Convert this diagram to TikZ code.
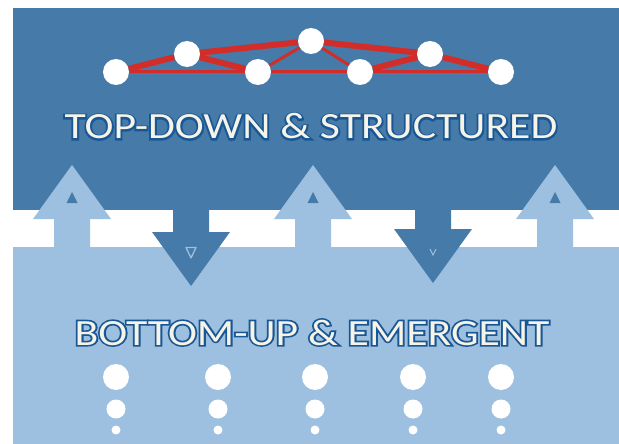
\documentclass[tikz,border=0pt]{standalone}
\usepackage{fontspec}
\setmainfont{Carlito}
\usetikzlibrary{calc}

\definecolor{topblue}{RGB}{70,122,168}
\definecolor{lowblue}{RGB}{157,192,224}
\definecolor{linkred}{RGB}{210,45,40}
\definecolor{rimblue}{RGB}{26,86,148}
\definecolor{cream}{RGB}{246,243,232}

% texto ensanchado; \rimtext lo engorda con un trazo (contorno)
\newcommand{\widetext}[1]{\scalebox{1.18}[1]{#1}}
\newcommand{\rimtext}[1]{\scalebox{1.18}[1]{\special{pdf:literal direct 2 Tr 3.2 w 0.10 0.34 0.58 RG}#1\special{pdf:literal direct 0 Tr}}}

\begin{document}
\begin{tikzpicture}[
    x=1pt, y=-1pt,
    % Estilos
    hub/.style={circle, fill=white, minimum size=26pt, inner sep=0pt},
    seed/.style={circle, fill=white, inner sep=0pt},
    strong/.style={linkred, line width=6pt},
    weak/.style={linkred, line width=3pt},
    banner/.style={font=\fontsize{37}{40}\selectfont, anchor=base, inner sep=0pt},
    upblock/.style={fill=lowblue},
    downblock/.style={fill=topblue}
]
\useasboundingbox (0,0) rectangle (619,444);

% -------------------------
% FRANJAS
% -------------------------
\fill[topblue] (13,8) rectangle (619,210);
\fill[lowblue] (13,247) rectangle (619,444);

% -------------------------
% FLECHAS
% -------------------------
% hacia abajo
\foreach \cx/\ty in {191/232, 433/229} {
    \fill[downblock] (\cx-18,205) -- (\cx+18,205) -- (\cx+18,\ty) -- (\cx+39,\ty)
        -- (\cx,\ty+54) -- (\cx-39,\ty) -- (\cx-18,\ty) -- cycle;
}
\draw[lowblue, line width=1.3pt, line join=round] (186,247.5) -- (196,247.5) -- (191,258) -- cycle;
\draw[lowblue, line width=1pt] (430,249) -- (433,255) -- (436,249);

% hacia arriba
\foreach \cx in {72,313,555} {
    \fill[upblock] (\cx,165) -- (\cx+39,219) -- (\cx+18,219) -- (\cx+18,250)
        -- (\cx-18,250) -- (\cx-18,219) -- (\cx-39,219) -- cycle;
    \fill[topblue] (\cx,192) -- (\cx+5.5,203) -- (\cx-5.5,203) -- cycle;
}

% -------------------------
% RED ESTRUCTURADA (Arriba)
% -------------------------
\node[hub] (n1) at (116,72) {};
\node[hub] (n2) at (187,54) {};
\node[hub] (n3) at (258,72) {};
\node[hub] (n4) at (311,41) {};
\node[hub] (n5) at (360,72) {};
\node[hub] (n6) at (430,54) {};
\node[hub] (n7) at (501,72) {};

\draw[weak] (n1) -- (n3);
\draw[weak] (n3) -- (n5);
\draw[weak] (n5) -- (n7);
\draw[weak] (n3) -- (n4);
\draw[weak] (n4) -- (n5);
\draw[strong] (n1) -- (n2);
\draw[strong] (n2) -- (n3);
\draw[strong] (n2) -- (n4);
\draw[strong] (n4) -- (n6);
\draw[strong] (n5) -- (n6);
\draw[strong] (n6) -- (n7);

% -------------------------
% TITULOS
% -------------------------
\coordinate (topline) at (311,139);
\coordinate (lowline) at (312,345);

\node[banner, text=rimblue] (toprim) at (topline) {\rimtext{TOP-DOWN \& STRUCTURED}};
\node[banner, text=cream] (toptitle) at (topline) {\widetext{TOP-DOWN \& STRUCTURED}};
\node[banner, text=rimblue] (lowrim) at (lowline) {\rimtext{BOTTOM-UP \& EMERGENT}};
\node[banner, text=cream] (lowtitle) at (lowline) {\widetext{BOTTOM-UP \& EMERGENT}};

% -------------------------
% PUNTOS EMERGENTES (Abajo)
% -------------------------
\foreach \cx [count=\i] in {116,218,315,413,501} {
    \node[seed, minimum size=26pt] (big\i) at (\cx,377) {};
    \node[seed, minimum size=19pt] (mid\i) at (\cx,409) {};
    \node[seed, minimum size=9pt] (tiny\i) at (\cx,430) {};
}

\end{tikzpicture}
\end{document}
